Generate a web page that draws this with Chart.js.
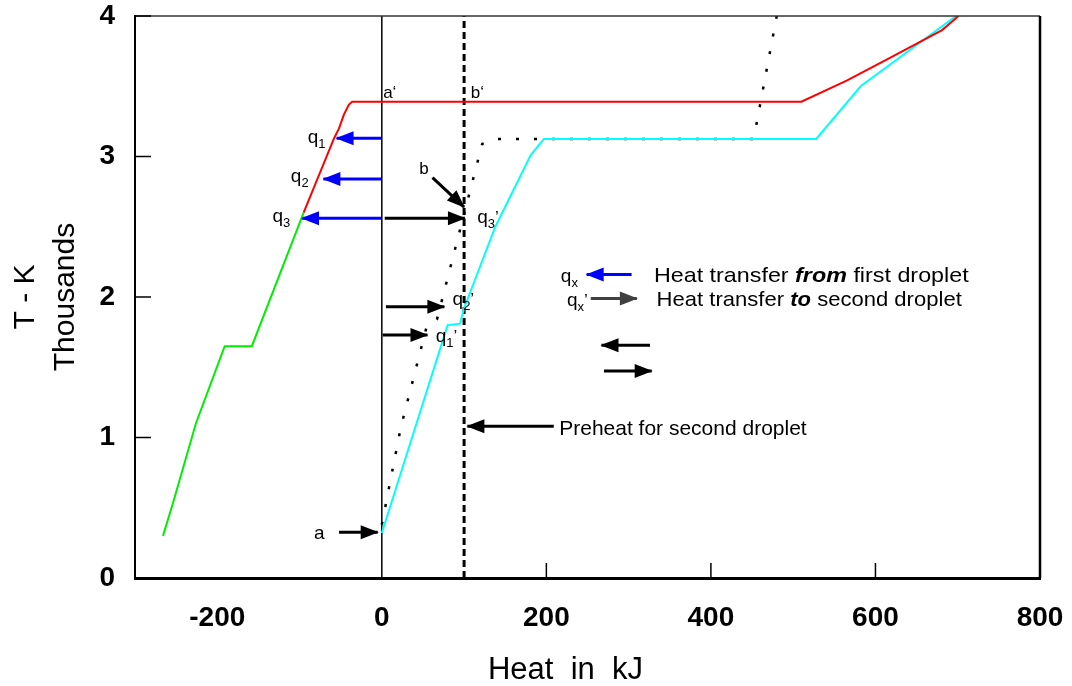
<!DOCTYPE html>
<html>
<head>
<meta charset="utf-8">
<script src="https://cdn.jsdelivr.net/npm/chart.js@4.4.1/dist/chart.umd.min.js"></script>
<style>
  html, body { margin: 0; padding: 0; background: #fff; }
  #c { display: block; }
</style>
</head>
<body>
<canvas id="c" width="1072" height="686"></canvas>
<script>
// Temperature (thousand K) against heat (kJ) for two droplets

const xTicks = [-200, 0, 200, 400, 600, 800];
const yTicks = [0, 1, 2, 3, 4];

// first droplet, lower branch
const greenX = [-266, -254, -226, -191, -158, -95];
const greenY = [0.30, 0.53, 1.10, 1.65, 1.65, 2.60];

// first droplet, upper branch
const redX = [-95, -58, -52, -46, -40, -36, 510, 565, 617, 681, 701];
const redY = [2.60, 3.13, 3.20, 3.30, 3.37, 3.39, 3.39, 3.54, 3.70, 3.90, 4.00];

// second droplet
const cyanX = [0, 80, 95, 100, 138, 181, 197, 528, 582, 698];
const cyanY = [0.32, 1.80, 1.81, 1.92, 2.50, 3.01, 3.125, 3.125, 3.50, 4.00];

// second droplet after preheating
const dotX = [0, 23, 55, 67, 96, 122, 140, 452, 480];
const dotY = [0.38, 1.07, 1.80, 1.84, 2.50, 3.09, 3.125, 3.125, 4.00];

// vertical reference lines a-a' and b-b'
const lineAX = [0, 0];
const lineAY = [0, 4];
const lineBX = [100, 100];
const lineBY = [0, 4];

// arrows: tail (x0, y0) to head (x1, y1)
const arrowX0 = [0, 0, 0, 3.5, 61.6, 5, 1, -52, 209, 303.6, 254, 326, 270];
const arrowY0 = [3.13, 2.84, 2.56, 2.56, 2.85, 1.93, 1.73, 0.325, 1.08, 2.16, 1.99, 1.656, 1.473];
const arrowX1 = [-55, -71, -97, 101, 100, 76, 55.5, -5, 104, 249, 310, 267, 328];
const arrowY1 = [3.13, 2.84, 2.56, 2.56, 2.64, 1.93, 1.73, 0.325, 1.08, 2.16, 1.99, 1.656, 1.473];
const arrowColor = ['#0000ff', '#0000ff', '#0000ff', '#000', '#000', '#000', '#000', '#000', '#000', '#0000ff', '#404040', '#000', '#000'];

const xTitle = 'Heat  in  kJ';
const yTitle = ['T - K', 'Thousands'];

const FONT = "'Liberation Sans', Arial, sans-serif";
const f = (size, style) => (style ? style + ' ' : '') + size + 'px ' + FONT;

// text placed at data coordinates (left edge, baseline)
const notes = [
  { x: 1.6, y: 3.416, runs: [{ t: 'a\u2018', font: f(17) }] },
  { x: 108, y: 3.416, runs: [{ t: 'b\u2018', font: f(17) }] },
  { x: -90, y: 3.098, runs: [{ t: 'q', font: f(19) }, { t: '1', font: f(13), dy: 5 }] },
  { x: -110.6, y: 2.82, runs: [{ t: 'q', font: f(19) }, { t: '2', font: f(13), dy: 5 }] },
  { x: -133, y: 2.536, runs: [{ t: 'q', font: f(19) }, { t: '3', font: f(13), dy: 5 }] },
  { x: 45.4, y: 2.873, runs: [{ t: 'b', font: f(17) }] },
  { x: 116, y: 2.53, runs: [{ t: 'q', font: f(19) }, { t: '3', font: f(13), dy: 5 }, { t: '\u2019', font: f(17) }] },
  { x: 86, y: 1.943, runs: [{ t: 'q', font: f(19) }, { t: '2', font: f(13), dy: 5 }, { t: '\u2019', font: f(17) }] },
  { x: 65.6, y: 1.682, runs: [{ t: 'q', font: f(19) }, { t: '1', font: f(13), dy: 5 }, { t: '\u2019', font: f(17) }] },
  { x: -82.3, y: 0.278, runs: [{ t: 'a', font: f(19) }] },
  { x: 217.6, y: 2.107, runs: [{ t: 'q', font: f(19) }, { t: 'x', font: f(13), dy: 5 }] },
  { x: 225, y: 1.936, runs: [{ t: 'q', font: f(19) }, { t: 'x', font: f(13), dy: 5 }, { t: '\u2019', font: f(17) }] },
  { x: 330.7, y: 2.109, sx: 1.11, runs: [{ t: 'Heat transfer ', font: f(21) }, { t: 'from', font: f(21, 'italic bold') }, { t: ' first droplet', font: f(21) }] },
  { x: 334, y: 1.938, sx: 1.05, runs: [{ t: 'Heat transfer ', font: f(21) }, { t: 'to', font: f(21, 'italic bold') }, { t: ' second droplet', font: f(21) }] },
  { x: 215.6, y: 1.018, runs: [{ t: 'Preheat for second droplet', font: f(21) }] }
];

const pts = (xs, ys) => xs.map((x, i) => ({ x: x, y: ys[i] }));

const lineSet = (xs, ys, color, width, dash) => ({
  data: pts(xs, ys),
  showLine: true,
  borderColor: color,
  borderWidth: width,
  borderDash: dash || [],
  borderCapStyle: 'butt',
  pointRadius: 0,
  tension: 0
});

const datasets = [
  lineSet(greenX, greenY, '#00ee00', 2),
  lineSet(redX, redY, '#ff0000', 2),
  lineSet(cyanX, cyanY, '#00ffff', 2),
  lineSet(dotX, dotY, '#000', 2.5, [3, 15]),
  lineSet(lineAX, lineAY, '#000', 1.5),
  lineSet(lineBX, lineBY, '#000', 3, [7, 4])
];
arrowX0.forEach((x0, i) => {
  const ds = lineSet([x0, arrowX1[i]], [arrowY0[i], arrowY1[i]], arrowColor[i], 3);
  ds.isArrow = true;
  datasets.push(ds);
});

// frame, inward tick marks, arrow heads, x title and annotations
const decorations = {
  id: 'decorations',
  afterDatasetsDraw(chart) {
    const ctx = chart.ctx;
    const xs = chart.scales.x, ys = chart.scales.y;
    const a = chart.chartArea;

    ctx.save();
    // frame top / right
    ctx.strokeStyle = '#333';
    ctx.lineWidth = 1.5;
    ctx.beginPath();
    ctx.moveTo(a.left, a.top);
    ctx.lineTo(a.right, a.top);
    ctx.stroke();
    ctx.strokeStyle = '#000';
    ctx.lineWidth = 2.5;
    ctx.beginPath();
    ctx.moveTo(a.right, a.top);
    ctx.lineTo(a.right, a.bottom);
    ctx.stroke();

    // inward ticks
    ctx.lineWidth = 1.5;
    ctx.strokeStyle = '#000';
    yTicks.forEach(v => {
      if (v === 0) return;
      const py = ys.getPixelForValue(v);
      ctx.beginPath();
      ctx.moveTo(a.left, py);
      ctx.lineTo(a.left + 16, py);
      ctx.stroke();
    });
    xTicks.forEach(v => {
      if (v <= 0) return;
      const px = xs.getPixelForValue(v);
      ctx.beginPath();
      ctx.moveTo(px, a.bottom);
      ctx.lineTo(px, a.bottom - 15);
      ctx.stroke();
    });

    // arrow heads
    chart.data.datasets.forEach((ds, i) => {
      if (!ds.isArrow) return;
      const m = chart.getDatasetMeta(i).data;
      const p0 = m[0], p1 = m[1];
      const ang = Math.atan2(p1.y - p0.y, p1.x - p0.x);
      const len = 17, hw = 7;
      ctx.save();
      ctx.translate(p1.x, p1.y);
      ctx.rotate(ang);
      ctx.fillStyle = ds.borderColor;
      ctx.beginPath();
      ctx.moveTo(1, 0);
      ctx.lineTo(-len, -hw);
      ctx.lineTo(-len, hw);
      ctx.closePath();
      ctx.fill();
      ctx.restore();
    });

    // x axis title, set slightly left of the plot centre
    ctx.fillStyle = '#000';
    ctx.font = f(31);
    ctx.textAlign = 'center';
    ctx.textBaseline = 'alphabetic';
    ctx.fillText(xTitle, (a.left + a.right) / 2 - 22, a.bottom + 101);

    // annotations
    ctx.textAlign = 'left';
    notes.forEach(n => {
      const sx = n.sx || 1;
      ctx.save();
      ctx.translate(xs.getPixelForValue(n.x), ys.getPixelForValue(n.y));
      ctx.scale(sx, 1);
      let cx = 0;
      n.runs.forEach(r => {
        ctx.font = r.font;
        ctx.fillText(r.t, cx, r.dy || 0);
        cx += ctx.measureText(r.t).width;
      });
      ctx.restore();
    });
    ctx.restore();
  }
};

const noEdgePadding = s => {
  s.paddingLeft = 0;
  s.paddingRight = 0;
  s.paddingTop = 0;
  s.paddingBottom = 0;
};

new Chart(document.getElementById('c'), {
  type: 'scatter',
  data: { datasets: datasets },
  options: {
    responsive: false,
    animation: false,
    layout: { padding: { top: 16, right: 32, left: 0, bottom: 0 } },
    plugins: { legend: { display: false }, tooltip: { enabled: false } },
    scales: {
      x: {
        type: 'linear',
        min: -300,
        max: 800,
        afterBuildTicks: s => { s.ticks = xTicks.map(v => ({ value: v })); },
        afterFit: s => { s.height = 108; noEdgePadding(s); },
        grid: { display: false, drawTicks: false },
        border: { display: true, color: '#000', width: 3 },
        ticks: {
          color: '#000',
          padding: 23,
          maxRotation: 0,
          font: { family: FONT, size: 28, weight: 'bold', lineHeight: 1.2 },
          callback: v => String(v)
        },
        title: { display: false }
      },
      y: {
        min: 0,
        max: 4,
        afterBuildTicks: s => { s.ticks = yTicks.map(v => ({ value: v })); },
        afterFit: s => { s.width = 135; noEdgePadding(s); },
        grid: { display: false, drawTicks: false },
        border: { display: true, color: '#000', width: 2 },
        ticks: {
          color: '#000',
          padding: 20,
          font: { family: FONT, size: 28, weight: 'bold', lineHeight: 1.0 },
          callback: v => String(v)
        },
        title: {
          display: true,
          text: yTitle,
          color: '#000',
          font: { family: FONT, size: 30, lineHeight: 1.33 },
          padding: { top: 6, bottom: 0 }
        }
      }
    }
  },
  plugins: [decorations]
});
</script>
</body>
</html>
